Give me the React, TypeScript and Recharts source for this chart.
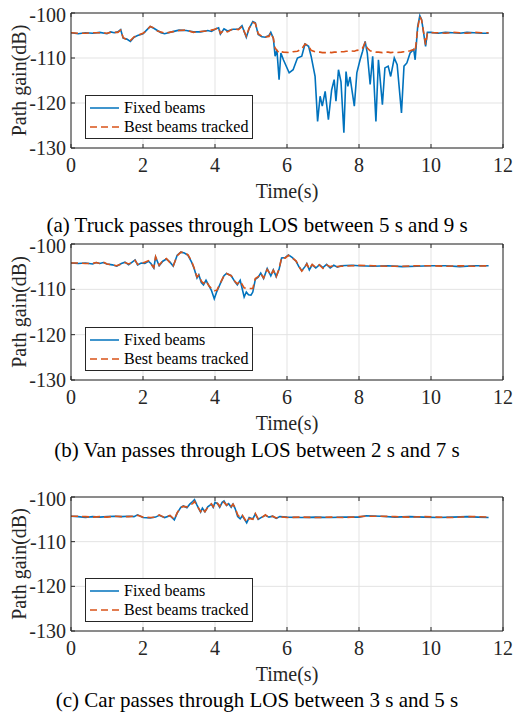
import React from "react"
import { LineChart, Line, XAxis, YAxis, CartesianGrid, Legend } from "recharts"

// panel (a) truck
const truckTime = [0, 0.2, 0.4, 0.6, 0.8, 1.0, 1.1, 1.2, 1.3, 1.38, 1.45, 1.55, 1.65, 1.75, 1.85, 2.0, 2.1, 2.2, 2.3, 2.4, 2.5, 2.6, 2.8, 3.0, 3.2, 3.4, 3.6, 3.8, 3.9, 4.0, 4.1, 4.15, 4.25, 4.35, 4.5, 4.65, 4.75, 4.87, 4.95, 5.05, 5.12, 5.2, 5.3, 5.4, 5.5, 5.55, 5.62, 5.67, 5.72, 5.78, 5.83, 5.9, 6.06, 6.17, 6.29, 6.41, 6.5, 6.6, 6.67, 6.78, 6.85, 6.92, 6.98, 7.06, 7.15, 7.24, 7.31, 7.36, 7.43, 7.5, 7.58, 7.64, 7.69, 7.75, 7.87, 7.94, 8.03, 8.1, 8.17, 8.23, 8.31, 8.38, 8.47, 8.54, 8.65, 8.72, 8.81, 8.88, 8.98, 9.06, 9.18, 9.25, 9.33, 9.42, 9.52, 9.56, 9.63, 9.69, 9.74, 9.85, 9.9, 10.0, 10.2, 10.4, 10.6, 10.8, 11.0, 11.2, 11.4, 11.6]
const truckFixed = [-104.4, -104.6, -104.4, -104.5, -104.3, -104.6, -104.2, -104.4, -104.2, -103.7, -105.6, -105.8, -106.3, -105.4, -105.0, -104.6, -103.8, -103.0, -103.4, -103.9, -104.4, -104.6, -104.2, -103.8, -103.9, -104.2, -104.2, -103.9, -104.1, -103.6, -103.3, -104.7, -103.5, -104.0, -103.6, -103.6, -102.8, -105.4, -103.4, -101.9, -102.2, -104.8, -105.3, -105.4, -105.0, -104.3, -105.6, -109.6, -108.2, -114.8, -108.9, -110.4, -113.3, -112.6, -110.0, -109.6, -106.9, -107.4, -109.6, -114.1, -124.1, -118.5, -120.7, -117.4, -123.7, -117.1, -114.8, -119.6, -112.6, -115.3, -126.6, -113.0, -116.3, -114.2, -120.7, -113.3, -110.4, -108.5, -106.3, -108.9, -115.9, -109.6, -124.1, -110.4, -120.4, -112.2, -111.8, -114.1, -110.0, -111.5, -122.2, -111.8, -111.1, -108.9, -108.1, -110.4, -103.0, -100.6, -101.5, -107.4, -104.3, -104.3, -104.5, -104.3, -104.4, -104.5, -104.3, -104.4, -104.5, -104.5]
const truckTracked = [-104.4, -104.5, -104.5, -104.4, -104.4, -104.5, -104.3, -104.3, -104.3, -103.8, -105.5, -105.9, -106.1, -105.3, -105.0, -104.5, -103.9, -103.0, -103.3, -104.0, -104.2, -104.5, -104.2, -103.9, -103.8, -104.3, -104.1, -104.0, -103.8, -103.6, -103.2, -104.5, -103.8, -104.2, -103.5, -103.7, -103.0, -105.2, -103.3, -102.1, -102.3, -104.6, -105.2, -105.3, -105.2, -104.4, -105.6, -107.8, -108.3, -108.9, -108.6, -108.7, -108.8, -108.6, -108.5, -108.0, -106.9, -107.3, -108.3, -108.6, -108.7, -108.7, -108.8, -108.8, -108.7, -108.8, -108.7, -108.7, -108.6, -108.6, -108.6, -108.5, -108.5, -108.4, -108.5, -108.3, -108.2, -107.8, -106.6, -107.8, -108.4, -108.6, -108.7, -108.7, -108.8, -108.7, -108.7, -108.8, -108.7, -108.8, -108.7, -108.6, -108.6, -108.4, -108.1, -108.6, -103.4, -100.8, -101.6, -107.0, -104.5, -104.4, -104.4, -104.5, -104.3, -104.4, -104.5, -104.3, -104.4, -104.4]

// panel (b) van
const vanTime = [0, 0.2, 0.4, 0.6, 0.7, 0.8, 0.9, 1.0, 1.15, 1.27, 1.4, 1.5, 1.6, 1.7, 1.78, 1.85, 1.95, 2.05, 2.15, 2.22, 2.3, 2.35, 2.45, 2.55, 2.65, 2.75, 2.84, 2.95, 3.05, 3.15, 3.25, 3.35, 3.42, 3.5, 3.55, 3.62, 3.68, 3.75, 3.83, 3.9, 3.98, 4.05, 4.15, 4.25, 4.32, 4.45, 4.55, 4.62, 4.7, 4.81, 4.87, 4.93, 5.0, 5.05, 5.12, 5.2, 5.27, 5.35, 5.45, 5.55, 5.62, 5.7, 5.78, 5.85, 5.95, 6.04, 6.15, 6.25, 6.33, 6.41, 6.5, 6.55, 6.62, 6.7, 6.8, 6.9, 7.0, 7.1, 7.2, 7.3, 7.4, 7.5, 7.8, 8.0, 8.4, 8.8, 9.2, 9.6, 10.0, 10.4, 10.8, 11.2, 11.6]
const vanFixed = [-104.2, -104.3, -104.2, -104.4, -104.1, -104.3, -104.1, -104.4, -104.6, -104.9, -104.3, -104.0, -104.6, -104.0, -103.5, -104.6, -104.2, -104.3, -103.8, -104.3, -105.3, -102.9, -104.8, -103.8, -103.3, -104.0, -104.9, -102.5, -101.8, -102.0, -102.5, -104.0, -105.4, -107.5, -106.8, -108.5, -109.0, -108.0, -109.2, -110.2, -112.1, -110.5, -108.7, -107.0, -106.5, -107.0, -108.3, -109.0, -108.0, -111.7, -110.6, -111.2, -111.3, -110.6, -107.8, -107.3, -106.4, -107.6, -105.4, -107.0, -105.7, -107.2, -105.6, -103.1, -103.0, -102.4, -103.0, -103.8, -105.0, -105.9, -105.0, -104.3, -105.7, -104.6, -105.3, -104.6, -105.2, -104.5, -105.3, -104.7, -105.1, -104.8, -104.7, -104.8, -104.9, -104.8, -105.0, -104.9, -104.8, -104.8, -105.0, -104.8, -104.8]
const vanTracked = [-104.2, -104.2, -104.3, -104.3, -104.1, -104.3, -104.0, -104.4, -104.6, -104.8, -104.4, -104.1, -104.4, -104.1, -103.6, -104.5, -104.3, -104.0, -103.7, -104.4, -105.2, -102.8, -104.7, -103.7, -103.2, -104.1, -104.8, -102.6, -101.8, -101.9, -102.4, -103.8, -105.3, -107.3, -106.9, -108.2, -108.7, -108.1, -109.2, -109.8, -110.3, -110.2, -108.6, -107.0, -106.5, -107.0, -108.2, -108.8, -108.2, -109.7, -109.7, -109.8, -109.8, -109.8, -107.6, -107.2, -106.5, -107.5, -105.6, -106.9, -105.8, -107.2, -105.5, -103.0, -103.1, -102.5, -103.1, -103.7, -104.9, -106.0, -105.1, -104.4, -105.5, -104.5, -105.2, -104.6, -105.4, -104.6, -105.0, -104.7, -105.0, -104.9, -104.8, -104.7, -104.8, -104.9, -104.9, -104.8, -104.8, -104.9, -104.8, -104.9, -104.8]

// panel (c) car
const carTime = [0, 0.2, 0.4, 0.6, 0.8, 1.0, 1.2, 1.4, 1.6, 1.75, 1.85, 2.0, 2.2, 2.35, 2.45, 2.6, 2.75, 2.87, 2.95, 3.05, 3.12, 3.22, 3.3, 3.38, 3.43, 3.5, 3.6, 3.65, 3.72, 3.8, 3.9, 3.95, 4.0, 4.07, 4.13, 4.2, 4.25, 4.32, 4.38, 4.45, 4.5, 4.56, 4.63, 4.7, 4.76, 4.88, 4.95, 5.05, 5.12, 5.2, 5.3, 5.4, 5.5, 5.6, 5.7, 5.8, 6.0, 6.4, 6.8, 7.2, 7.6, 8.0, 8.2, 8.6, 9.0, 9.4, 9.8, 10.2, 10.6, 11.0, 11.3, 11.6]
const carFixed = [-104.3, -104.4, -104.6, -104.4, -104.5, -104.4, -104.3, -104.4, -104.3, -104.4, -104.0, -104.6, -104.7, -104.5, -104.1, -104.6, -104.2, -105.1, -103.6, -102.3, -102.0, -102.4, -101.6, -101.0, -100.6, -101.8, -103.4, -102.5, -103.3, -102.2, -101.6, -102.3, -101.2, -101.5, -102.3, -101.2, -100.9, -101.9, -101.5, -102.3, -101.6, -102.6, -104.4, -104.9, -104.2, -105.8, -104.6, -104.9, -103.8, -105.0, -104.5, -104.1, -104.5, -104.3, -104.8, -104.4, -104.5, -104.6, -104.5, -104.6, -104.5, -104.5, -104.2, -104.3, -104.5, -104.4, -104.5, -104.6, -104.5, -104.4, -104.5, -104.6]
const carTracked = [-104.3, -104.3, -104.4, -104.5, -104.4, -104.5, -104.3, -104.4, -104.4, -104.3, -104.1, -104.5, -104.6, -104.5, -104.0, -104.6, -104.1, -105.0, -103.5, -102.4, -102.1, -102.2, -101.8, -101.5, -101.0, -101.9, -103.3, -102.6, -103.3, -102.3, -101.5, -102.2, -101.3, -101.4, -102.1, -101.0, -101.2, -101.8, -101.4, -102.1, -101.6, -102.4, -104.0, -104.6, -104.1, -105.6, -104.8, -105.0, -103.7, -104.9, -104.6, -104.0, -104.6, -104.3, -104.7, -104.4, -104.6, -104.5, -104.6, -104.5, -104.6, -104.4, -104.3, -104.3, -104.4, -104.5, -104.4, -104.5, -104.6, -104.4, -104.4, -104.5]

const xTicks = [0, 2, 4, 6, 8, 10, 12]
const yTicks = [-130, -120, -110, -100]

const serif = "'Liberation Serif', 'Times New Roman', serif"
const axisColor = "#262626"
const blue = "#0072BD"
const orange = "#D95319"

function LegendBox() {
  const row = (color: string, dash: string | undefined, label: string) => (
    <div style={{ display: "flex", alignItems: "center", height: 19, whiteSpace: "nowrap" }}>
      <svg width={31} height={10} style={{ marginRight: 4, flex: "none" }}>
        <line x1={1} y1={5} x2={30} y2={5} stroke={color} strokeWidth={1.5} strokeDasharray={dash} />
      </svg>
      <span>{label}</span>
    </div>
  )
  return (
    <div
      style={{
        display: "inline-block",
        border: `1px solid ${axisColor}`,
        background: "#fff",
        padding: "2px 4px 2px 3px",
        fontFamily: serif,
        fontSize: 16,
        color: "#000",
        lineHeight: "19px",
      }}
    >
      {row(blue, undefined, "Fixed beams")}
      {row(orange, "7 4", "Best beams tracked")}
    </div>
  )
}

type PanelProps = {
  top: number
  plotH: number
  time: number[]
  fixed: number[]
  tracked: number[]
  caption: string
  captionGap: number
}

function Panel({ top, plotH, time, fixed, tracked, caption, captionGap }: PanelProps) {
  const data = time.map((t, i) => ({ t, fixed: fixed[i], tracked: tracked[i] }))
  const chartH = 9 + 1 + plotH + 30
  const plotBottom = top + 10 + plotH
  const tickFont = { fontFamily: serif, fontSize: 20, fill: "#262626" }
  return (
    <>
      <div style={{ position: "absolute", left: 0, top, fontFamily: serif }}>
        <LineChart
          width={514}
          height={chartH}
          data={data}
          margin={{ top: 9, right: 10, left: 0, bottom: 0 }}
          style={{ fontFamily: serif }}
        >
          <CartesianGrid stroke="#e3e3e3" strokeWidth={1} vertical horizontal />
          <XAxis
            dataKey="t"
            type="number"
            domain={[0, 12]}
            ticks={xTicks}
            height={30}
            stroke={axisColor}
            tickSize={-4}
            tickMargin={14}
            tick={tickFont}
            allowDataOverflow
          />
          <XAxis
            xAxisId="top"
            orientation="top"
            dataKey="t"
            type="number"
            domain={[0, 12]}
            ticks={xTicks}
            height={1}
            stroke={axisColor}
            tickSize={-4}
            tickFormatter={() => ""}
          />
          <YAxis
            domain={[-130, -100]}
            ticks={yTicks}
            width={71}
            stroke={axisColor}
            tickSize={-4}
            tickMargin={9}
            tick={tickFont}
            label={{
              value: "Path gain(dB)",
              angle: -90,
              position: "insideLeft",
              offset: 19,
              style: { textAnchor: "middle", fontFamily: serif, fontSize: 20, fill: "#262626" },
            }}
            allowDataOverflow
          />
          <YAxis
            yAxisId="right"
            orientation="right"
            domain={[-130, -100]}
            ticks={yTicks}
            width={1}
            stroke={axisColor}
            tickSize={-4}
            tickFormatter={() => ""}
          />
          <Legend
            layout="vertical"
            align="center"
            verticalAlign="middle"
            content={() => <LegendBox />}
            wrapperStyle={{ left: 85, top: plotH - 43, width: "auto", height: "auto" }}
          />
          <Line
            dataKey="fixed"
            name="Fixed beams"
            stroke={blue}
            strokeWidth={1.6}
            dot={false}
            isAnimationActive={false}
          />
          <Line
            dataKey="tracked"
            name="Best beams tracked"
            stroke={orange}
            strokeWidth={1.6}
            strokeDasharray="7 4"
            dot={false}
            isAnimationActive={false}
          />
        </LineChart>
      </div>
      <div
        style={{
          position: "absolute",
          left: 71,
          width: 432,
          top: plotBottom + 33,
          textAlign: "center",
          fontFamily: serif,
          fontSize: 20,
          lineHeight: "20px",
          color: "#262626",
        }}
      >
        Time(s)
      </div>
      <div
        style={{
          position: "absolute",
          left: 0,
          width: 514,
          top: plotBottom + captionGap + 1,
          textAlign: "center",
          fontFamily: serif,
          fontSize: 21,
          lineHeight: "16px",
          color: "#000",
        }}
      >
        {caption}
      </div>
    </>
  )
}

export default function App() {
  return (
    <div style={{ position: "absolute", left: 0, top: 0, width: 514, height: 719, background: "#fff" }}>
      <Panel top={3} plotH={135} time={truckTime} fixed={truckFixed} tracked={truckTracked} caption="(a) Truck passes through LOS between 5 s and 9 s" captionGap={68} />
      <Panel top={234} plotH={136} time={vanTime} fixed={vanFixed} tracked={vanTracked} caption="(b) Van passes through LOS between 2 s and 7 s" captionGap={61} />
      <Panel top={487} plotH={134} time={carTime} fixed={carFixed} tracked={carTracked} caption="(c) Car passes through LOS between 3 s and 5 s" captionGap={60} />
    </div>
  )
}
